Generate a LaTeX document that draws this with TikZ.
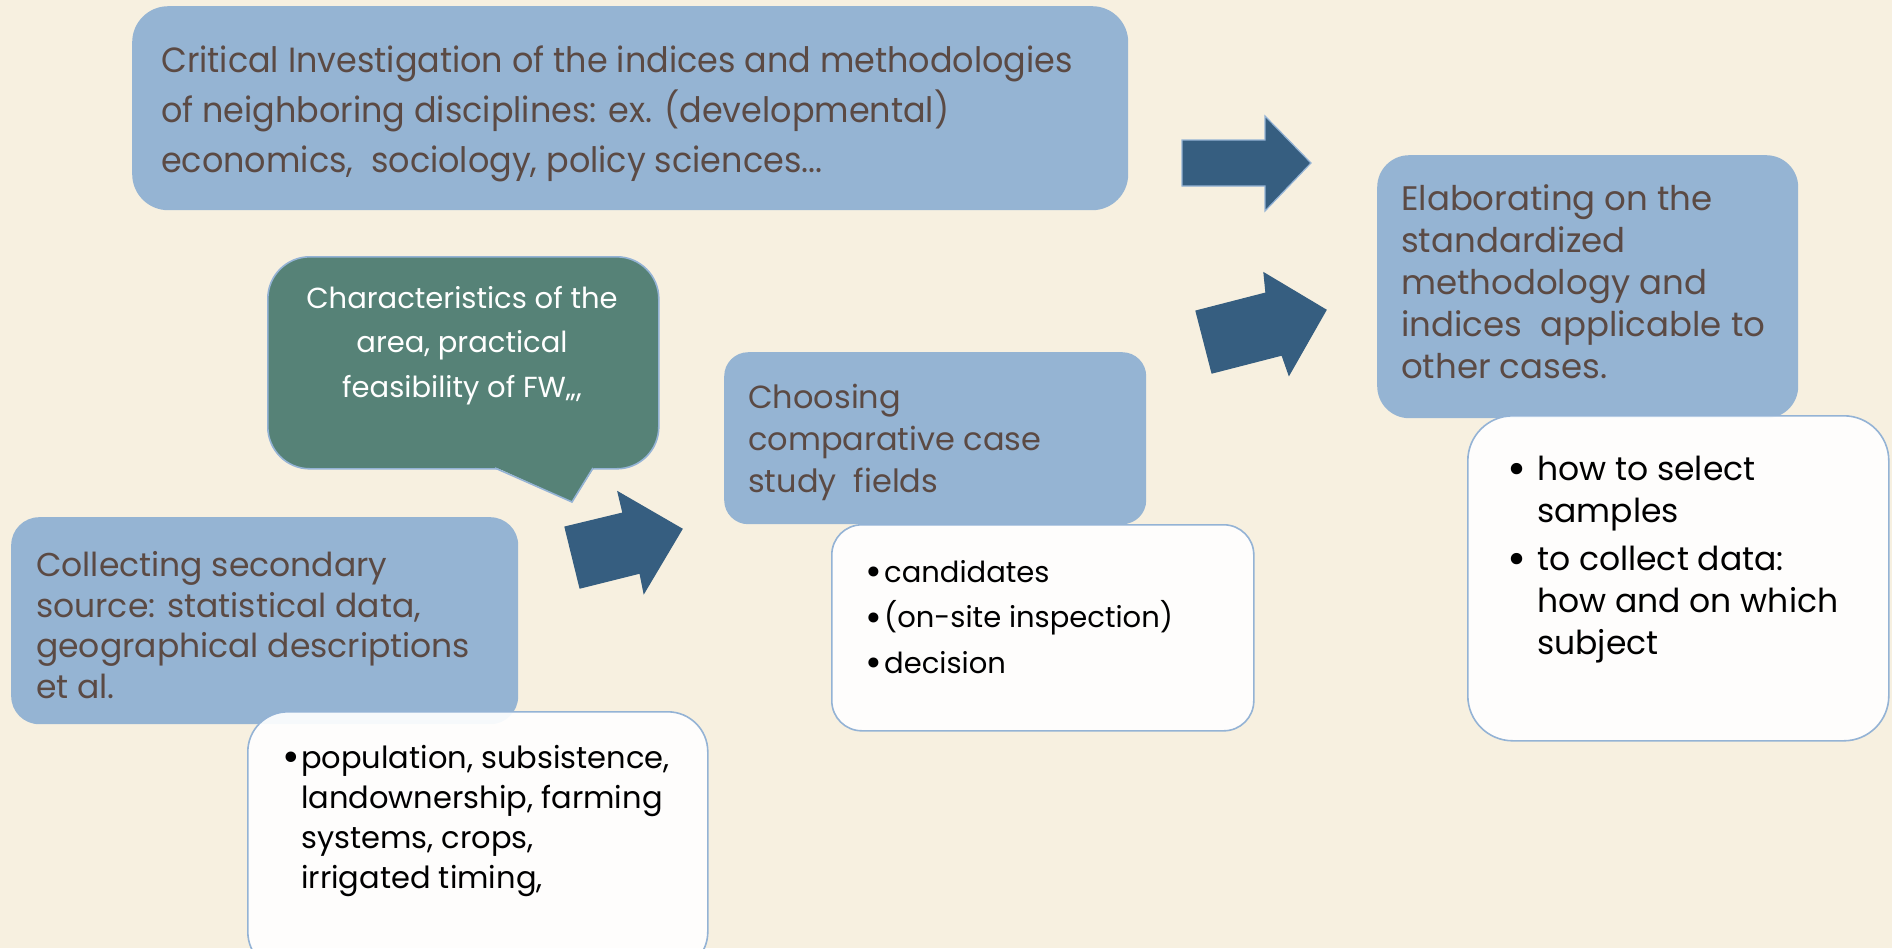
\documentclass[tikz,border=0pt]{standalone}
\usepackage{graphicx}
\usepackage{fontspec}
\setmainfont{Poppins}
\newfontfamily\condfont{Poppins}[FakeStretch=0.955]
\definecolor{bgcream}{HTML}{F7F0E0}
\definecolor{boxblue}{HTML}{95B4D3}
\definecolor{arrowblue}{HTML}{365E80}
\definecolor{calloutgreen}{HTML}{568277}
\definecolor{edgeblue}{HTML}{94B3D5}
\definecolor{textbrown}{HTML}{5B4A44}
\newcommand{\bul}[1]{\makebox[#1][l]{\raisebox{-0.13em}{\scalebox{1.4}{•}}}}
\begin{document}
\begin{tikzpicture}[x=1pt,y=-1pt,
  bluebox/.style={fill=boxblue, inner sep=0pt, anchor=north west},
  whitebox/.style={fill=white, fill opacity=0.92, draw=edgeblue, line width=1.6pt, inner sep=0pt, anchor=north west},
  blocktext/.style={anchor=base west, align=left, inner sep=0pt, text=textbrown},
  bullettext/.style={anchor=base west, align=left, inner sep=0pt, text=black},
  blockarrow/.style={fill=arrowblue, draw=edgeblue, line width=1.2pt, line join=miter}
]
\fill[bgcream] (0,0) rectangle (1892,948);
\useasboundingbox (0,0) rectangle (1892,948);

% top box (text anchors are at the baseline of the last line)
\node[bluebox, rounded corners=36pt, minimum width=996pt, minimum height=204pt] (topbox) at (132,6) {};
\node[blocktext, font={\condfont\fontsize{35}{50}\selectfont}] (toptext) at (161,172)
  {Critical Investigation of the indices and methodologies\\of neighboring disciplines: ex. (developmental)\\economics,\ \ sociology, policy sciences...};

% arrows to the right box
\draw[blockarrow] (1182,140) -- (1265,140) -- (1265,116) -- (1311,163) -- (1265,211) -- (1265,186) -- (1182,186) -- cycle;
\draw[blockarrow, draw=arrowblue] (1196,311) -- (1266,293) -- (1264,273) -- (1326,310) -- (1289,375) -- (1282,355) -- (1212,373) -- cycle;

% right boxes
\node[bluebox, rounded corners=32pt, minimum width=421pt, minimum height=263pt] (rightbox) at (1377,155) {};
\node[blocktext, font={\fontsize{34}{42}\selectfont}] (righttext) at (1401,378)
  {Elaborating on the\\standardized\\methodology and\\indices\ \ applicable to\\other cases.};
\node[whitebox, rounded corners=45pt, minimum width=421pt, minimum height=325pt] (rightwhite) at (1467,415) {};
\node[bullettext, font={\fontsize{33}{42}\selectfont}] (rightlist) at (1507,654)
  {\bul{30pt}how to select\\\hspace*{30pt}samples\\[6pt]\bul{30pt}to collect data:\\\hspace*{30pt}how and on which\\\hspace*{30pt}subject};

% callout
\node[fill=calloutgreen, draw=edgeblue, line width=1.6pt, rounded corners=42pt, inner sep=0pt, anchor=north west, minimum width=391pt, minimum height=212pt] (callout) at (267,256) {};
\fill[calloutgreen] (493,466) -- (572,502) -- (595,466) -- cycle;
\draw[edgeblue, line width=1.6pt] (495,468) -- (572,502) -- (593,468);
\node[anchor=base, align=center, inner sep=0pt, text=white, font={\fontsize{29}{44.5}\selectfont}] (callouttext) at (462,397)
  {Characteristics of the\\area, practical\\feasibility of FW,,,};

% small arrow
\draw[blockarrow, draw=arrowblue] (565,527) -- (623,513) -- (618,492) -- (682,529) -- (644,593) -- (640,573) -- (580,588) -- cycle;

% left boxes
\node[bluebox, rounded corners=28pt, minimum width=507pt, minimum height=207pt] (leftbox) at (11,517) {};
\node[blocktext, font={\fontsize{33}{40.5}\selectfont}] (lefttext) at (36,698)
  {Collecting secondary\\source: statistical data,\\geographical descriptions\\et al.};
\node[whitebox, rounded corners=40pt, minimum width=460pt, minimum height=260pt] (leftwhite) at (247,711) {};
\node[bullettext, font={\fontsize{30.5}{40}\selectfont}] (leftlist) at (282,888)
  {\bul{19pt}population, subsistence,\\\hspace*{19pt}landownership, farming\\\hspace*{19pt}systems, crops,\\\hspace*{19pt}irrigated timing,};

% middle boxes
\node[bluebox, rounded corners=24pt, minimum width=422pt, minimum height=172pt] (midbox) at (724,352) {};
\node[blocktext, font={\fontsize{32}{42}\selectfont}] (midtext) at (748,492)
  {Choosing\\comparative case\\study\ \ fields};
\node[whitebox, rounded corners=30pt, minimum width=422pt, minimum height=206pt] (midwhite) at (831,524) {};
\node[bullettext, font={\fontsize{29}{45.5}\selectfont}] (midlist) at (865,673)
  {\bul{19pt}candidates\\\bul{19pt}(on-site inspection)\\\bul{19pt}decision};
\end{tikzpicture}
\end{document}
